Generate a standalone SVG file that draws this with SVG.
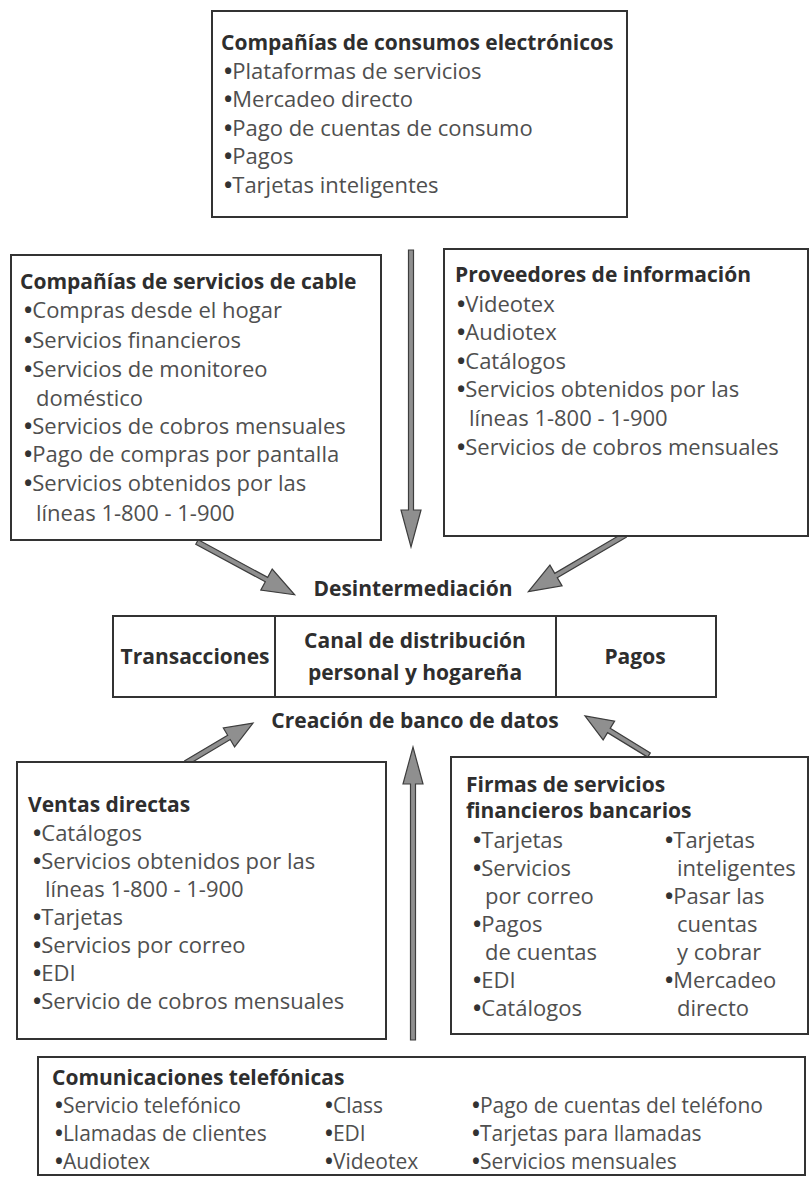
<svg xmlns="http://www.w3.org/2000/svg" width="811" height="1180" viewBox="0 0 811 1180">
<style>
.box{fill:#fff;stroke:#333;stroke-width:2}
.t{font-family:"Open Sans","Lato",sans-serif;font-size:21px;font-weight:700;fill:#2e2e2e}
.i{font-family:"Open Sans","Lato",sans-serif;font-size:22px;fill:#4f4f4f}
.s{font-size:21px}
.b{font-weight:700;fill:#333}
.c{font-family:"Open Sans","Lato",sans-serif;font-size:21px;font-weight:700;fill:#2e2e2e;text-anchor:middle}
.arr{fill:#8f8f8f;stroke:#3d3d3d;stroke-width:1.2;stroke-linejoin:miter}
.div{stroke:#333;stroke-width:2}
</style>
<rect width="811" height="1180" fill="#fff"/>

<g id="connectors">
  <g transform="translate(411,250) rotate(90)"><path class="arr" d="M0,-2.5 H260 V-10 L297,0 L260,10 V2.5 H0 Z"/></g>
  <g transform="translate(413,1040) rotate(-90)"><path class="arr" d="M0,-2.5 H256 V-10 L293,0 L256,10 V2.5 H0 Z"/></g>
  <g transform="translate(197,542) rotate(28.4)"><path class="arr" d="M0,-2.5 H79 V-12 L111,0 L79,12 V2.5 H0 Z"/></g>
  <g transform="translate(625,535) rotate(149.6)"><path class="arr" d="M0,-2.5 H80 V-12 L112,0 L80,12 V2.5 H0 Z"/></g>
  <g transform="translate(186,763) rotate(-30.8)"><path class="arr" d="M0,-2.5 H50 V-11 L78,0 L50,11 V2.5 H0 Z"/></g>
  <g transform="translate(649,755) rotate(-148.6)"><path class="arr" d="M0,-2.5 H47 V-11 L75,0 L47,11 V2.5 H0 Z"/></g>
</g>

<g id="consumos">
  <rect class="box" x="212" y="11" width="415" height="206"/>
  <text class="t" x="221" y="50">Compañías de consumos electrónicos</text>
  <text class="i" x="224" y="79"><tspan class="b">•</tspan>Plataformas de servicios</text>
  <text class="i" x="224" y="107"><tspan class="b">•</tspan>Mercadeo directo</text>
  <text class="i" x="224" y="136"><tspan class="b">•</tspan>Pago de cuentas de consumo</text>
  <text class="i" x="224" y="164"><tspan class="b">•</tspan>Pagos</text>
  <text class="i" x="224" y="193"><tspan class="b">•</tspan>Tarjetas inteligentes</text>
</g>

<g id="cable">
  <rect class="box" x="11" y="255" width="370" height="285"/>
  <text class="t" x="20" y="289">Compañías de servicios de cable</text>
  <text class="i" x="24" y="318"><tspan class="b">•</tspan>Compras desde el hogar</text>
  <text class="i" x="24" y="348"><tspan class="b">•</tspan>Servicios financieros</text>
  <text class="i" x="24" y="377"><tspan class="b">•</tspan>Servicios de monitoreo</text>
  <text class="i" x="36" y="406">doméstico</text>
  <text class="i" x="24" y="434"><tspan class="b">•</tspan>Servicios de cobros mensuales</text>
  <text class="i" x="24" y="462"><tspan class="b">•</tspan>Pago de compras por pantalla</text>
  <text class="i" x="24" y="491"><tspan class="b">•</tspan>Servicios obtenidos por las</text>
  <text class="i" x="36" y="521">líneas 1-800 - 1-900</text>
</g>

<g id="informacion">
  <rect class="box" x="444" y="249" width="364" height="287"/>
  <text class="t" x="455" y="282">Proveedores de información</text>
  <text class="i" x="457" y="312"><tspan class="b">•</tspan>Videotex</text>
  <text class="i" x="457" y="340"><tspan class="b">•</tspan>Audiotex</text>
  <text class="i" x="457" y="369"><tspan class="b">•</tspan>Catálogos</text>
  <text class="i" x="457" y="397"><tspan class="b">•</tspan>Servicios obtenidos por las</text>
  <text class="i" x="469" y="426">líneas 1-800 - 1-900</text>
  <text class="i" x="457" y="455"><tspan class="b">•</tspan>Servicios de cobros mensuales</text>
</g>

<g id="desintermediacion">
  <text class="c" x="413" y="596">Desintermediación</text>
</g>

<g id="canal">
  <rect class="box" x="113" y="616" width="603" height="81"/>
  <line class="div" x1="275" y1="616" x2="275" y2="697"/>
  <line class="div" x1="556" y1="616" x2="556" y2="697"/>
  <text class="c" x="195" y="664">Transacciones</text>
  <text class="c" x="415" y="648">Canal de distribución</text>
  <text class="c" x="415" y="680">personal y hogareña</text>
  <text class="c" x="635" y="664">Pagos</text>
</g>

<g id="creacion">
  <text class="c" x="415" y="728">Creación de banco de datos</text>
</g>

<g id="ventas">
  <rect class="box" x="17" y="762" width="369" height="277"/>
  <text class="t" x="28" y="812">Ventas directas</text>
  <text class="i" x="33" y="841"><tspan class="b">•</tspan>Catálogos</text>
  <text class="i" x="33" y="869"><tspan class="b">•</tspan>Servicios obtenidos por las</text>
  <text class="i" x="45" y="897">líneas 1-800 - 1-900</text>
  <text class="i" x="33" y="925"><tspan class="b">•</tspan>Tarjetas</text>
  <text class="i" x="33" y="953"><tspan class="b">•</tspan>Servicios por correo</text>
  <text class="i" x="33" y="981"><tspan class="b">•</tspan>EDI</text>
  <text class="i" x="33" y="1009"><tspan class="b">•</tspan>Servicio de cobros mensuales</text>
</g>

<g id="firmas">
  <rect class="box" x="451" y="757" width="357" height="277"/>
  <text class="t" x="466" y="792">Firmas de servicios</text>
  <text class="t" x="466" y="818">financieros bancarios</text>
  <text class="i" x="473" y="848"><tspan class="b">•</tspan>Tarjetas</text>
  <text class="i" x="473" y="876"><tspan class="b">•</tspan>Servicios</text>
  <text class="i" x="485" y="904">por correo</text>
  <text class="i" x="473" y="932"><tspan class="b">•</tspan>Pagos</text>
  <text class="i" x="485" y="960">de cuentas</text>
  <text class="i" x="473" y="988"><tspan class="b">•</tspan>EDI</text>
  <text class="i" x="473" y="1016"><tspan class="b">•</tspan>Catálogos</text>
  <text class="i" x="665" y="848"><tspan class="b">•</tspan>Tarjetas</text>
  <text class="i" x="677" y="876">inteligentes</text>
  <text class="i" x="665" y="904"><tspan class="b">•</tspan>Pasar las</text>
  <text class="i" x="677" y="932">cuentas</text>
  <text class="i" x="677" y="960">y cobrar</text>
  <text class="i" x="665" y="988"><tspan class="b">•</tspan>Mercadeo</text>
  <text class="i" x="677" y="1016">directo</text>
</g>

<g id="telefonicas">
  <rect class="box" x="38" y="1057" width="767" height="118"/>
  <text class="t" x="52" y="1085">Comunicaciones telefónicas</text>
  <text class="i s" x="55" y="1113"><tspan class="b">•</tspan>Servicio telefónico</text>
  <text class="i s" x="55" y="1141"><tspan class="b">•</tspan>Llamadas de clientes</text>
  <text class="i s" x="55" y="1169"><tspan class="b">•</tspan>Audiotex</text>
  <text class="i s" x="325" y="1113"><tspan class="b">•</tspan>Class</text>
  <text class="i s" x="325" y="1141"><tspan class="b">•</tspan>EDI</text>
  <text class="i s" x="325" y="1169"><tspan class="b">•</tspan>Videotex</text>
  <text class="i s" x="472" y="1113"><tspan class="b">•</tspan>Pago de cuentas del teléfono</text>
  <text class="i s" x="472" y="1141"><tspan class="b">•</tspan>Tarjetas para llamadas</text>
  <text class="i s" x="472" y="1169"><tspan class="b">•</tspan>Servicios mensuales</text>
</g>
</svg>
